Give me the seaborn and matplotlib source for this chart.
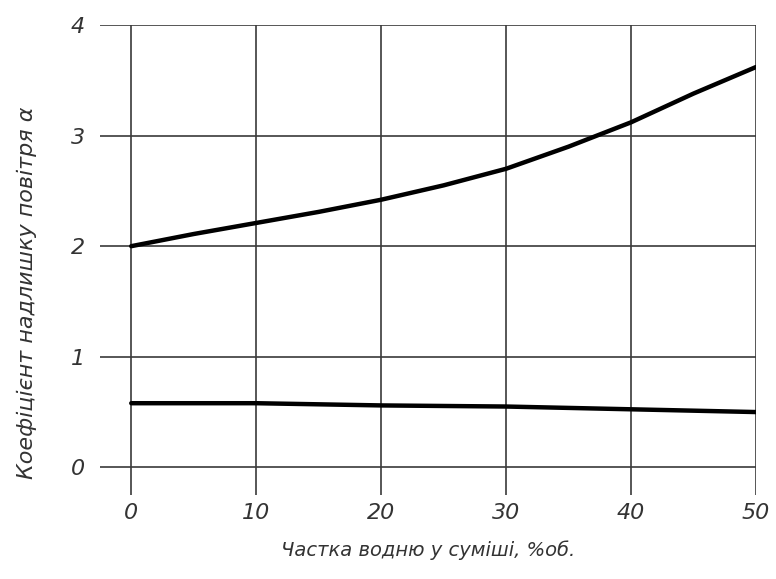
import matplotlib
matplotlib.use("Agg")
import matplotlib.pyplot as plt
import seaborn as sns
import pandas as pd

# Верхня крива: частка водню, %об., і коефіцієнт надлишку повітря
upper_share = [0, 5, 10, 15, 20, 25, 30, 35, 40, 45, 50]
alpha_upper = [2.00, 2.11, 2.21, 2.31, 2.42, 2.55, 2.70, 2.90, 3.12, 3.38, 3.62]
# Нижня крива
lower_share = [0, 10, 20, 30, 40, 50]
alpha_lower = [0.58, 0.58, 0.56, 0.55, 0.525, 0.50]

x_ticks = [0, 10, 20, 30, 40, 50]
y_ticks = [0, 1, 2, 3, 4]

sns.set_theme(style="white")
plt.rcParams["font.family"] = ["DejaVu Sans"]

df = pd.DataFrame({
    "x": upper_share + lower_share,
    "alpha": alpha_upper + alpha_lower,
    "curve": ["upper"] * len(upper_share) + ["lower"] * len(lower_share),
})

fig = plt.figure(figsize=(7.76, 5.79), dpi=100)
ax = fig.add_axes([100 / 776, 84 / 579, 656 / 776, 470 / 579])

sns.lineplot(data=df, x="x", y="alpha", units="curve", estimator=None,
             color="black", linewidth=3.2, solid_capstyle="round",
             solid_joinstyle="round", ax=ax, zorder=3)

ax.set_xlim(-2.5, 50)
ax.set_ylim(-0.25, 4)
ax.set_xticks(x_ticks)
ax.set_yticks(y_ticks)
ax.set_xticklabels([str(v) for v in x_ticks])
ax.set_yticklabels([str(v) for v in y_ticks])

ax.grid(True, color="#3a3a3a", linewidth=1.2)
for s in ax.spines.values():
    s.set_visible(False)

ax.tick_params(axis="both", length=0, colors="#333333", labelsize=16)
ax.tick_params(axis="x", pad=6)
ax.tick_params(axis="y", pad=11)
for lbl in ax.get_xticklabels() + ax.get_yticklabels():
    lbl.set_fontstyle("italic")

ax.set_xlabel("Частка водню у суміші, %об.", fontsize=14, fontstyle="italic",
              color="#333333", labelpad=12)
ax.set_ylabel("Коефіцієнт надлишку повітря α", fontsize=16, fontstyle="italic",
              color="#333333")
ax.yaxis.set_label_coords(-0.096, 0.43)

fig.savefig("out.png", dpi=100)
